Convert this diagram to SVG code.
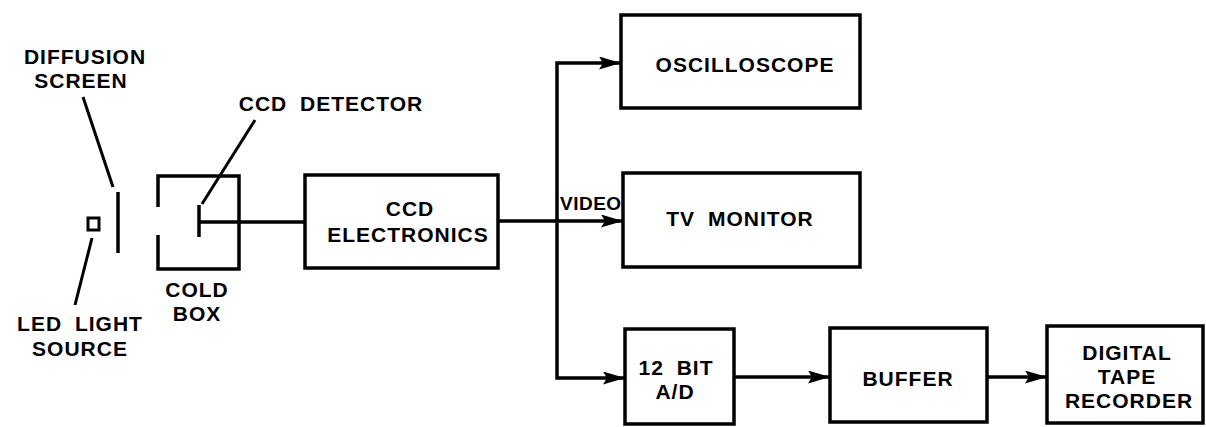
<svg xmlns="http://www.w3.org/2000/svg" width="1206" height="427" viewBox="0 0 1206 427">
<style>
.b{fill:none;stroke:#000;stroke-width:3.5}
.l{fill:none;stroke:#000;stroke-width:3}
.c{fill:none;stroke:#000;stroke-width:3.5}
text{font-family:"Liberation Sans",Arial,sans-serif;font-weight:bold;font-size:21px;letter-spacing:1px;word-spacing:6px;fill:#000;text-anchor:middle}
</style>
<defs>
<marker id="ah" markerWidth="22" markerHeight="13" refX="21" refY="6.5" orient="auto" markerUnits="userSpaceOnUse">
<path d="M0,0 L22,6.5 L0,13 L4,6.5 Z" fill="#000"/>
</marker>
</defs>
<rect width="1206" height="427" fill="#fff"/>
<g id="led">
<rect class="l" x="88" y="218" width="11" height="12"/>
<line class="l" x1="92" y1="238" x2="75" y2="305"/>
<text x="80" y="331">LED LIGHT</text>
<text x="80" y="356">SOURCE</text>
</g>
<g id="diffusion">
<line class="b" x1="118" y1="192" x2="118" y2="253"/>
<line class="l" x1="83" y1="97" x2="113" y2="187"/>
<text x="85" y="64">DIFFUSION</text>
<text x="81" y="88">SCREEN</text>
</g>
<g id="coldbox">
<path class="b" d="M158,207 V176 H239 V269 H158 V235"/>
<text x="197" y="297">COLD</text>
<text x="197" y="321">BOX</text>
</g>
<g id="ccddetector">
<line class="b" x1="199" y1="205" x2="199" y2="237"/>
<line class="l" x1="255" y1="120" x2="202" y2="204"/>
<text x="331" y="111">CCD DETECTOR</text>
</g>
<g id="ccdelectronics">
<rect class="b" x="305" y="175" width="193" height="93"/>
<text x="410" y="216">CCD</text>
<text x="408" y="242">ELECTRONICS</text>
</g>
<g id="oscilloscope">
<rect class="b" x="621" y="15" width="239" height="93"/>
<text x="745" y="72">OSCILLOSCOPE</text>
</g>
<g id="tvmonitor">
<rect class="b" x="623" y="173" width="237" height="94"/>
<text x="740" y="226">TV MONITOR</text>
</g>
<g id="adc">
<rect class="b" x="625" y="329" width="109" height="95"/>
<text x="676" y="375">12 BIT</text>
<text x="675" y="399">A/D</text>
</g>
<g id="buffer">
<rect class="b" x="830" y="328" width="157" height="94"/>
<text x="908" y="386">BUFFER</text>
</g>
<g id="tape">
<rect class="b" x="1047" y="326" width="156" height="97"/>
<text x="1127" y="360">DIGITAL</text>
<text x="1127" y="384">TAPE</text>
<text x="1129" y="408">RECORDER</text>
</g>
<g id="connectors">
<line class="c" x1="199" y1="222" x2="305" y2="222"/>
<line class="c" x1="498" y1="221" x2="622" y2="221" marker-end="url(#ah)"/>
<path class="c" d="M557,221 V63 H620" marker-end="url(#ah)"/>
<path class="c" d="M557,221 V378 H624" marker-end="url(#ah)"/>
<line class="c" x1="734" y1="377" x2="829" y2="377" marker-end="url(#ah)"/>
<line class="c" x1="987" y1="377" x2="1046" y2="377" marker-end="url(#ah)"/>
<text x="560" y="210" style="text-anchor:start;font-size:19px;letter-spacing:0.5px">VIDEO</text>
</g>
</svg>
